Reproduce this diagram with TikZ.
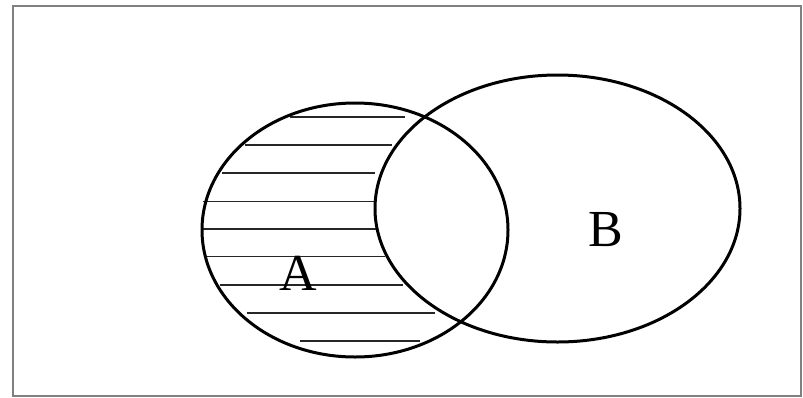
\documentclass[tikz,border=0pt]{standalone}
\usepackage{fontspec}
\setmainfont{Liberation Serif}
\begin{document}
\begin{tikzpicture}[x=1pt,y=-1pt,
  frame/.style={draw=black!50,line width=2pt},
  setline/.style={draw=black,line width=3pt},
  hatch/.style={draw=black!85,line width=1.5pt},
  setlabel/.style={font=\fontsize{52}{52}\selectfont,inner sep=0pt}]
\useasboundingbox (0,0) rectangle (803,397);
\draw[frame] (12.5,5.5) rectangle (801,395.5);
% hatching of A minus B
\foreach \y/\xa/\xb in {117/290/405,145/245/392,173/222/375,201.5/203/375,229/202/377,256.5/207/385,285/220/403,313/247/435,341/300/420}
  \draw[hatch] (\xa,\y) -- (\xb,\y);
\draw[setline] (355,230) ellipse [x radius=153, y radius=127];
\draw[setline] (557.5,208.5) ellipse [x radius=182.5, y radius=133.5];
\node[setlabel] (A) at (298,273) {A};
\node[setlabel] (B) at (606,230) {B};
\end{tikzpicture}
\end{document}
